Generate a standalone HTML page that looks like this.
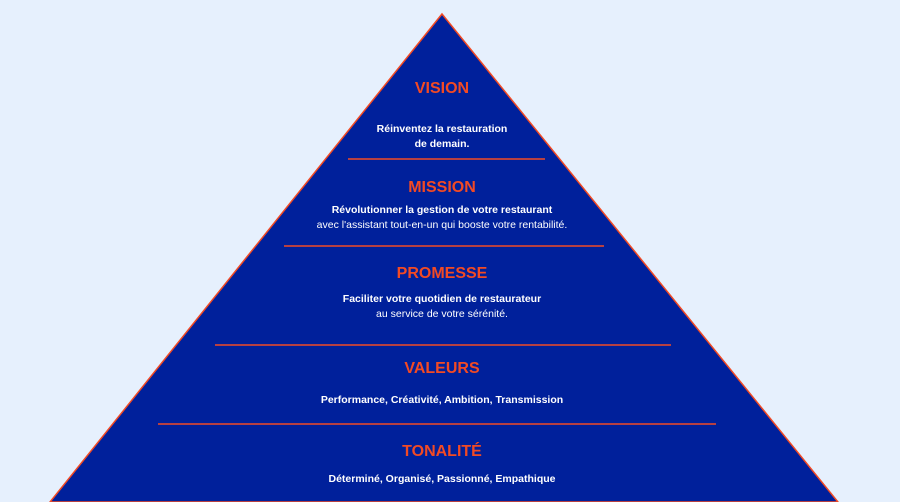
<!DOCTYPE html>
<html><head><meta charset="utf-8"><style>
body{margin:0;width:900px;height:502px;overflow:hidden;background:#e6f0fd;font-family:"Liberation Sans",sans-serif}
.t{position:absolute;left:0;width:884px;text-align:center;font-weight:bold}
.h{color:#f24a24;font-size:16px}
.b{color:#fff;font-size:10.5px;line-height:15px}
</style></head><body>
<svg width="900" height="502" style="position:absolute;left:0;top:0">
<polygon points="442,14 838,502 50,502" fill="#00209b" stroke="#f24a24" stroke-width="1.5"/>
<g stroke="#f24a24" stroke-width="1.5">
<line x1="348" y1="159" x2="545" y2="159"/>
<line x1="284" y1="246" x2="604" y2="246"/>
<line x1="215" y1="345" x2="671" y2="345"/>
<line x1="158" y1="424" x2="716" y2="424"/>
</g></svg>
<div class="t h" style="top:80px">VISION</div>
<div class="t b" style="top:122px">Réinventez la restauration<br>de demain.</div>
<div class="t h" style="top:179px">MISSION</div>
<div class="t b" style="top:203px">Révolutionner la gestion de votre restaurant<br><span style="font-weight:normal">avec l'assistant tout-en-un qui booste votre rentabilité.</span></div>
<div class="t h" style="top:265px">PROMESSE</div>
<div class="t b" style="top:292px">Faciliter votre quotidien de restaurateur<br><span style="font-weight:normal">au service de votre sérénité.</span></div>
<div class="t h" style="top:360px">VALEURS</div>
<div class="t b" style="top:393px">Performance, Créativité, Ambition, Transmission</div>
<div class="t h" style="top:443px">TONALITÉ</div>
<div class="t b" style="top:472px">Déterminé, Organisé, Passionné, Empathique</div>
</body></html>
